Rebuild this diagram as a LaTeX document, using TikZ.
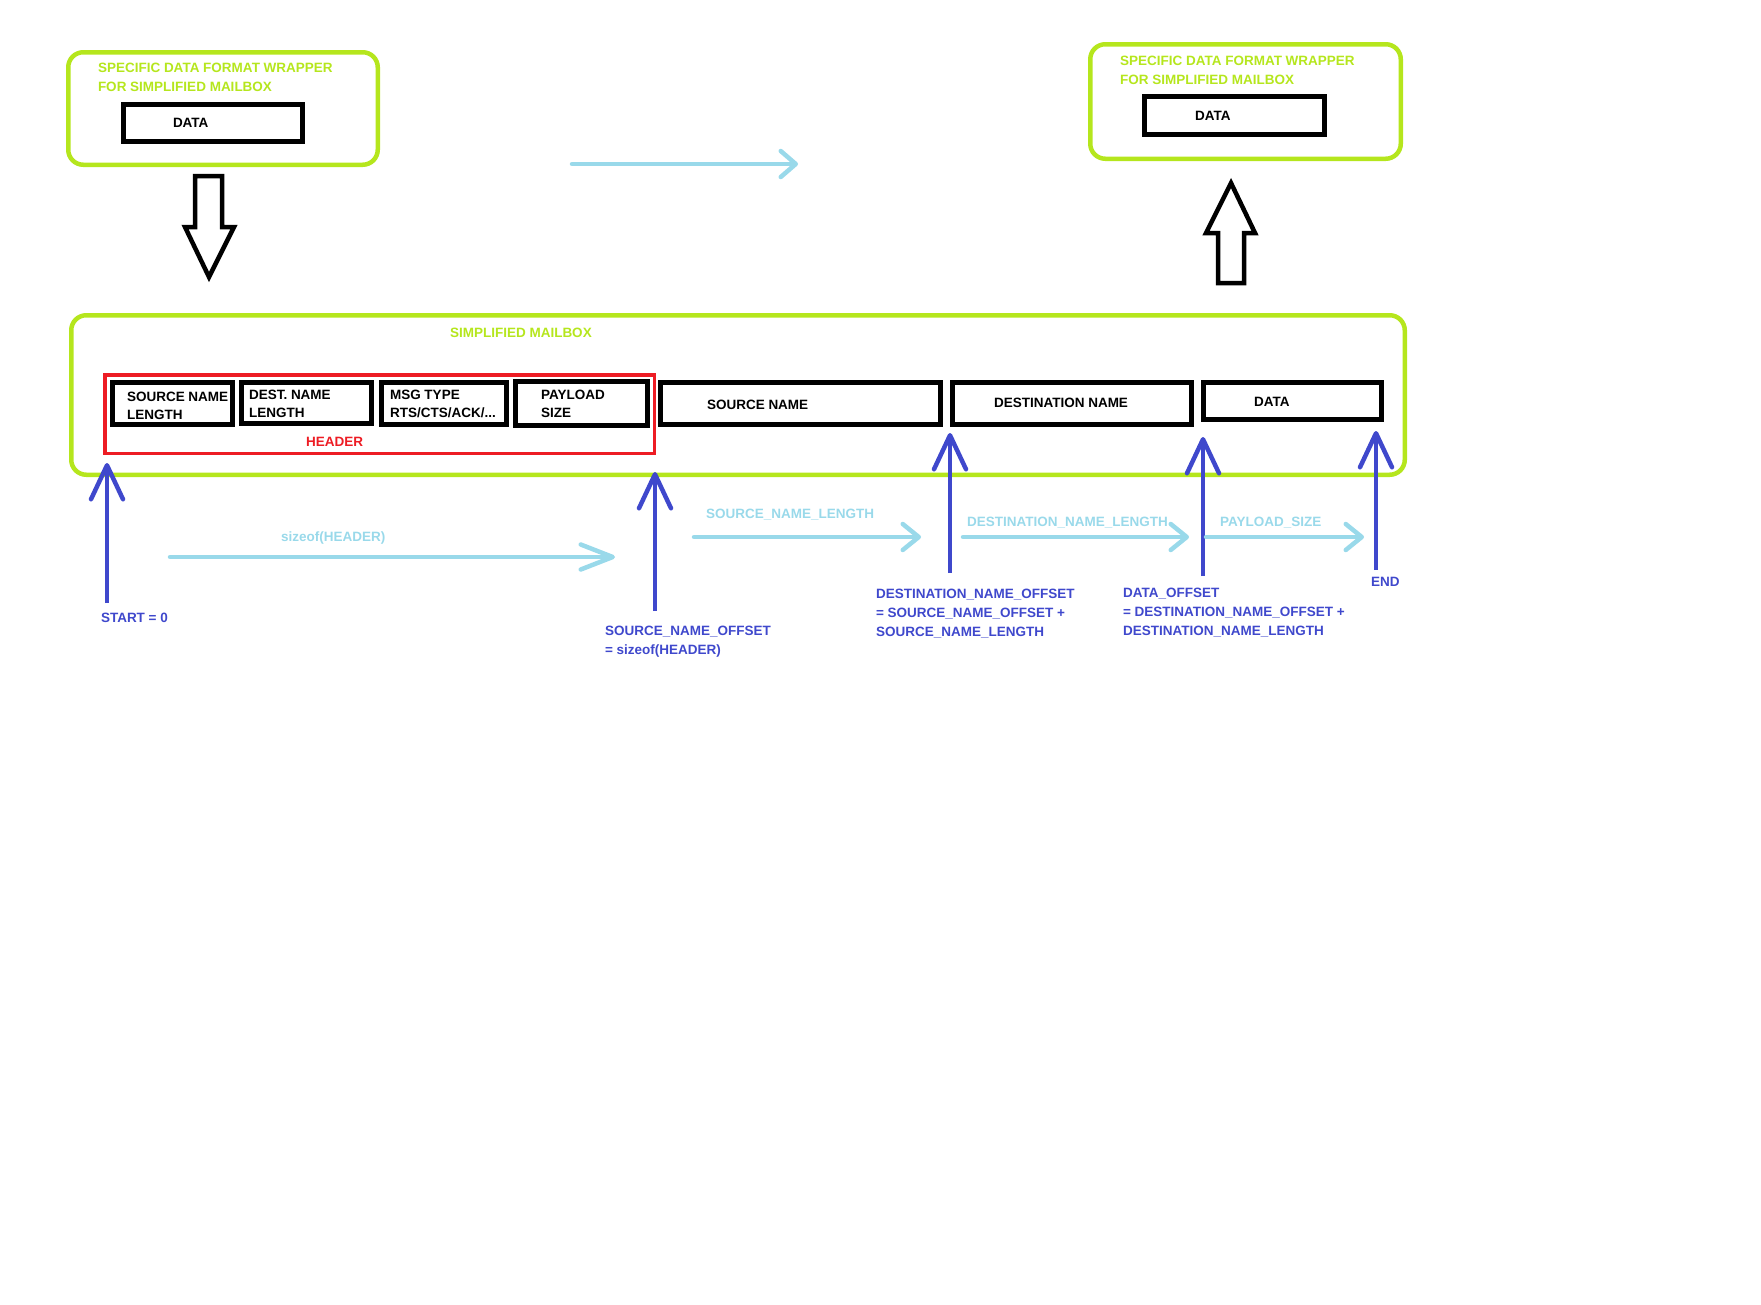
\documentclass[tikz,border=0pt]{standalone}
\usepackage{fontspec}
\setmainfont{Liberation Sans}
\usetikzlibrary{arrows.meta}
\definecolor{mailgreen}{HTML}{B5E61D}
\definecolor{sizeblue}{HTML}{99D9EA}
\definecolor{offsetblue}{HTML}{3F48CC}
\definecolor{headred}{HTML}{ED1C24}

\begin{document}
\begin{tikzpicture}[x=1pt,y=-1pt,
  every node/.style={inner sep=0pt, outer sep=0pt, font=\fontsize{13.5}{19}\selectfont\bfseries},
  wrapper/.style={draw=mailgreen, line width=4.5pt, rounded corners=15pt},
  field/.style={draw=black, line width=5pt},
  txt/.style={anchor=base west, align=left},
  fieldtxt/.style={txt, font=\fontsize{13.5}{18}\selectfont\bfseries},
  greentxt/.style={txt, text=mailgreen},
  sizetxt/.style={txt, text=sizeblue},
  offsettxt/.style={txt, text=offsetblue},
  sizearrow/.style={draw=sizeblue, line width=4.5pt, line cap=round, -{Straight Barb[length=16pt,width=26pt,round]}},
  offsetarrow/.style={draw=offsetblue, line width=4.5pt, -{Straight Barb[length=34pt,width=32pt,round]}},
  blockarrow/.style={draw=black, line width=4.5pt, fill=white}]
  \useasboundingbox (0,0) rectangle (1761,1304);
  % wrapper on the sending side (multi-line text: base = last line)
  \node[wrapper, minimum width=309.5, minimum height=112.5] (wrapL) at (223,108.5) {};
  \node[greentxt] (wrapLtxt) at (98,91.5) {SPECIFIC DATA FORMAT WRAPPER\\FOR SIMPLIFIED MAILBOX};
  \node[field, minimum width=179, minimum height=37] (dataL) at (213,123) {};
  \node[txt] (dataLtxt) at (173,127) {DATA};
  % wrapper on the receiving side
  \node[wrapper, minimum width=310.5, minimum height=114.5] (wrapR) at (1245.5,101.5) {};
  \node[greentxt] (wrapRtxt) at (1120,84.5) {SPECIFIC DATA FORMAT WRAPPER\\FOR SIMPLIFIED MAILBOX};
  \node[field, minimum width=180, minimum height=38] (dataR) at (1234.5,115.5) {};
  \node[txt] (dataRtxt) at (1195,120) {DATA};
  \coordinate (sendL) at (572,164);
  \coordinate (sendR) at (798,164);
  \draw[sizearrow, -{Straight Barb[length=15pt,width=26pt,round]}] (sendL) -- (sendR);
  % packing / unpacking
  \draw[blockarrow] (195,176) -- (222,176) -- (222,227) -- (234,227) -- (209,277)
    -- (185,227) -- (195,227) -- cycle;
  \draw[blockarrow] (1218,283) -- (1244,283) -- (1244,233) -- (1255,233) -- (1231,183)
    -- (1206,233) -- (1218,233) -- cycle;
  % the mailbox itself
  \node[wrapper, minimum width=1333.5, minimum height=159.5] (mailbox) at (738,395) {};
  \node[greentxt] (mailboxtxt) at (450,337) {SIMPLIFIED MAILBOX};
  \node[draw=headred, line width=3.5pt, minimum width=549.5, minimum height=78.5] (header) at (379.5,414) {};
  \node[txt, text=headred] (headertxt) at (306,446) {HEADER};
  \node[field, minimum width=120, minimum height=42] (srclen) at (172.5,403.5) {};
  \node[fieldtxt] (srclentxt) at (127,419) {SOURCE NAME\\LENGTH};
  \node[field, minimum width=130, minimum height=41] (dstlen) at (306.5,403) {};
  \node[fieldtxt] (dstlentxt) at (249,417) {DEST. NAME\\LENGTH};
  \node[field, minimum width=125, minimum height=42] (msgtype) at (444,403.5) {};
  \node[fieldtxt] (msgtypetxt) at (390,417) {MSG TYPE\\RTS/CTS/ACK/...};
  \node[field, minimum width=132, minimum height=44] (paysize) at (581.5,403.5) {};
  \node[fieldtxt] (paysizetxt) at (541,417.5) {PAYLOAD\\SIZE};
  \node[field, minimum width=280, minimum height=42] (srcname) at (800.5,403.5) {};
  \node[txt] (srcnametxt) at (707,409) {SOURCE NAME};
  \node[field, minimum width=239, minimum height=42] (dstname) at (1072,403.5) {};
  \node[txt] (dstnametxt) at (994,407) {DESTINATION NAME};
  \node[field, minimum width=178, minimum height=37] (payload) at (1292.5,401) {};
  \node[txt] (payloadtxt) at (1254,406) {DATA};
  % offsets
  \coordinate (start0) at (107,603);   \coordinate (start0tip) at (107,463);
  \coordinate (srcoff) at (655,611);   \coordinate (srcofftip) at (655,472);
  \coordinate (dstoff) at (950,573);   \coordinate (dstofftip) at (950,433);
  \coordinate (dataoff) at (1203,576); \coordinate (dataofftip) at (1203,437);
  \coordinate (endoff) at (1376,570);  \coordinate (endofftip) at (1376,431);
  \draw[offsetarrow] (start0) -- (start0tip);
  \draw[offsetarrow] (srcoff) -- (srcofftip);
  \draw[offsetarrow] (dstoff) -- (dstofftip);
  \draw[offsetarrow] (dataoff) -- (dataofftip);
  \draw[offsetarrow] (endoff) -- (endofftip);
  \node[offsettxt] (start0txt) at (101,622) {START = 0};
  \node[offsettxt] (srcofftxt) at (605,654) {SOURCE\_NAME\_OFFSET\\= sizeof(HEADER)};
  \node[offsettxt] (dstofftxt) at (876,636) {DESTINATION\_NAME\_OFFSET\\= SOURCE\_NAME\_OFFSET +\\SOURCE\_NAME\_LENGTH};
  \node[offsettxt] (dataofftxt) at (1123,635) {DATA\_OFFSET\\= DESTINATION\_NAME\_OFFSET +\\DESTINATION\_NAME\_LENGTH};
  \node[offsettxt] (endofftxt) at (1371,586) {END};
  % sizes
  \coordinate (hdrL) at (170,557);  \coordinate (hdrR) at (615,557);
  \coordinate (srclenL) at (694,537);  \coordinate (srclenR) at (921,537);
  \coordinate (dstlenL) at (963,537);  \coordinate (dstlenR) at (1189,537);
  \coordinate (paylenL) at (1206,537); \coordinate (paylenR) at (1364,537);
  \draw[sizearrow, -{Straight Barb[length=32pt,width=25pt,round]}] (hdrL) -- (hdrR);
  \draw[sizearrow] (srclenL) -- (srclenR);
  \draw[sizearrow] (dstlenL) -- (dstlenR);
  \draw[sizearrow] (paylenL) -- (paylenR);
  \node[sizetxt] (hdrtxt) at (281,541) {sizeof(HEADER)};
  \node[sizetxt] (srclentxt2) at (706,518) {SOURCE\_NAME\_LENGTH};
  \node[sizetxt] (dstlentxt2) at (967,526) {DESTINATION\_NAME\_LENGTH};
  \node[sizetxt] (paylentxt) at (1220,526) {PAYLOAD\_SIZE};
\end{tikzpicture}
\end{document}
